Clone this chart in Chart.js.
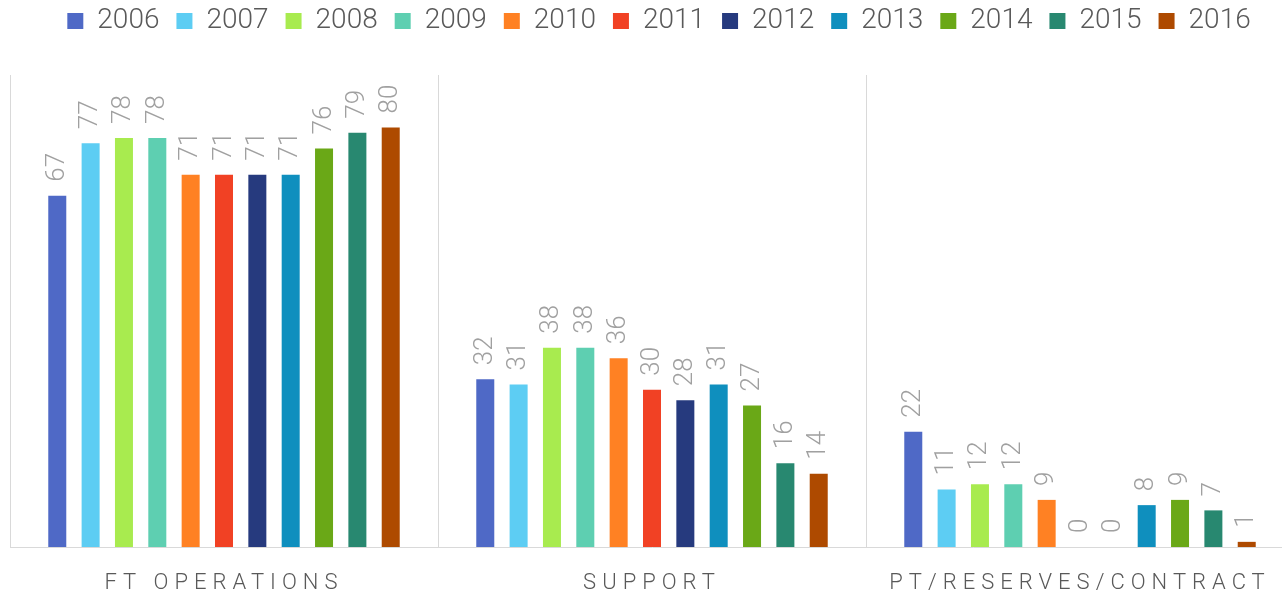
<!DOCTYPE html>
<html>
<head>
<meta charset="utf-8">
<script src="https://cdn.jsdelivr.net/npm/chart.js@4/dist/chart.umd.min.js"></script>
<style>
  html, body { margin: 0; padding: 0; background: #fff; overflow: hidden; }
  #wrap { width: 1308px; height: 597px; }
</style>
</head>
<body>
<div id="wrap"><canvas id="chart" width="1308" height="597"></canvas></div>
<script>
// categories and years
var categories = ['FT OPERATIONS', 'SUPPORT', 'PT/RESERVES/CONTRACT'];
var years = ['2006', '2007', '2008', '2009', '2010', '2011', '2012', '2013', '2014', '2015', '2016'];

// values per category, one per year
var ftOperations = [67, 77, 78, 78, 71, 71, 71, 71, 76, 79, 80];
var support = [32, 31, 38, 38, 36, 30, 28, 31, 27, 16, 14];
var ptReserves = [22, 11, 12, 12, 9, 0, 0, 8, 9, 7, 1];

var yearColors = ['#4f69c6', '#5dcdf3', '#a8eb4f', '#5ecfb1', '#ff8123', '#f14124',
                  '#263a7e', '#0f8fbe', '#6aa817', '#288870', '#ae4a00'];

var datasets = years.map(function (y, i) {
    return {
        label: y,
        data: [ftOperations[i], support[i], ptReserves[i]],
        backgroundColor: yearColors[i],
        borderWidth: 0,
        categoryPercentage: 0.857,
        barPercentage: 0.54
    };
});

// value labels, rotated, above each bar
var barLabels = {
    id: 'barLabels',
    afterDatasetsDraw: function (chart) {
        var ctx = chart.ctx;
        ctx.save();
        ctx.font = '300 26px Roboto';
        ctx.fillStyle = '#a0a0a0';
        ctx.textAlign = 'left';
        ctx.textBaseline = 'middle';
        chart.data.datasets.forEach(function (ds, i) {
            chart.getDatasetMeta(i).data.forEach(function (bar, j) {
                ctx.save();
                ctx.translate(bar.x, bar.y - 14);
                ctx.rotate(-Math.PI / 2);
                ctx.fillText(String(ds.data[j]), 0, 0);
                ctx.restore();
            });
        });
        ctx.restore();
    }
};

// spaced out category labels
var spacedTicks = {
    id: 'spacedTicks',
    beforeDraw: function (chart) {
        var sc = chart.scales.x;
        if (sc._spaced) return;
        var orig = sc.drawLabels.bind(sc);
        sc.drawLabels = function (area) {
            sc.ctx.save();
            sc.ctx.letterSpacing = '6px';
            orig(area);
            sc.ctx.restore();
        };
        sc._spaced = true;
    }
};

new Chart(document.getElementById('chart').getContext('2d'), {
    type: 'bar',
    data: { labels: categories, datasets: datasets },
    options: {
        responsive: false,
        animation: false,
        layout: { padding: { left: 10, right: 0, top: -10, bottom: -23.5 } },
        plugins: {
            legend: {
                position: 'top',
                labels: {
                    boxWidth: 16,
                    boxHeight: 16,
                    padding: 17,
                    color: '#595959',
                    font: { family: 'Roboto', size: 28, weight: '300' }
                }
            },
            tooltip: { enabled: false }
        },
        scales: {
            x: {
                grid: { color: '#d9d9d9', lineWidth: 1, drawTicks: false, offset: true },
                border: { color: '#d9d9d9', width: 1 },
                ticks: {
                    color: '#595959',
                    padding: 23.5,
                    font: { family: 'Roboto', size: 22, weight: '300' }
                }
            },
            xTop: {
                type: 'category',
                position: 'top',
                labels: categories,
                grid: { display: false },
                border: { display: false },
                ticks: { display: false },
                afterFit: function (s) { s.height = 30; }
            },
            y: {
                position: 'right',
                min: 0,
                max: 90,
                grid: { display: false },
                border: { display: false },
                ticks: { display: false },
                afterFit: function (s) { s.width = 14; }
            }
        }
    },
    plugins: [barLabels, spacedTicks]
});
</script>
</body>
</html>
